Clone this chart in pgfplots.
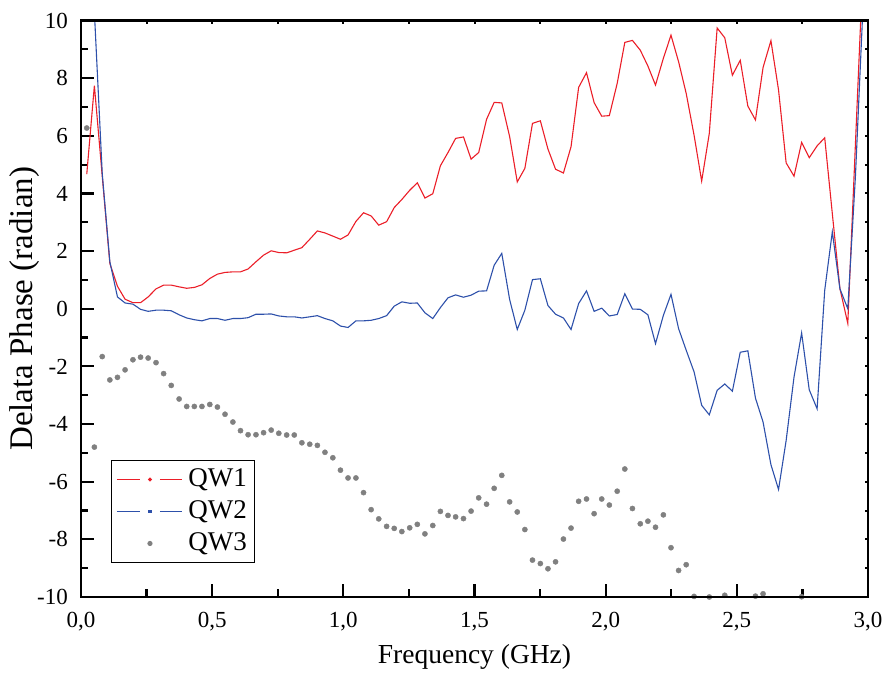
\documentclass[border=0pt]{standalone}
\usepackage{pgfplots}
\pgfplotsset{compat=1.18}
\usepackage{pgfplotstable}
\usepackage{fontspec}
\setmainfont{Liberation Serif}
\definecolor{qwred}{RGB}{235,30,40}
\definecolor{qwblue}{RGB}{45,80,170}
\definecolor{qwgrey}{RGB}{128,128,128}

\pgfplotstableread{
x y
0.022 4.67
0.051 7.74
0.081 4.60
0.110 1.57
0.139 0.78
0.168 0.33
0.198 0.21
0.227 0.21
0.256 0.41
0.286 0.69
0.315 0.82
0.344 0.82
0.374 0.76
0.403 0.71
0.432 0.74
0.461 0.83
0.491 1.05
0.520 1.20
0.549 1.26
0.579 1.28
0.608 1.28
0.637 1.38
0.667 1.63
0.696 1.86
0.725 2.01
0.754 1.95
0.784 1.94
0.813 2.03
0.842 2.12
0.872 2.41
0.901 2.70
0.930 2.63
0.960 2.52
0.989 2.41
1.018 2.56
1.048 3.03
1.077 3.33
1.106 3.22
1.135 2.90
1.165 3.02
1.194 3.51
1.223 3.79
1.253 4.11
1.282 4.37
1.311 3.84
1.341 3.99
1.370 4.96
1.399 5.42
1.428 5.91
1.458 5.96
1.487 5.19
1.516 5.42
1.546 6.57
1.575 7.16
1.604 7.14
1.634 5.97
1.663 4.40
1.692 4.87
1.721 6.43
1.751 6.52
1.780 5.54
1.809 4.84
1.839 4.71
1.868 5.62
1.897 7.68
1.927 8.19
1.956 7.15
1.985 6.68
2.014 6.70
2.044 7.82
2.073 9.24
2.102 9.31
2.132 8.97
2.161 8.42
2.190 7.76
2.220 8.69
2.249 9.49
2.278 8.57
2.307 7.47
2.337 6.02
2.366 4.43
2.395 6.08
2.425 9.74
2.454 9.40
2.483 8.10
2.513 8.62
2.542 7.03
2.571 6.55
2.600 8.37
2.630 9.30
2.659 7.59
2.688 5.06
2.718 4.60
2.747 5.77
2.776 5.24
2.806 5.65
2.835 5.93
2.864 3.30
2.893 0.70
2.923 -0.51
2.952 5.70
2.981 11.9
}\qwone

\pgfplotstableread{
x y
0.022 12.0
0.051 10.3
0.081 4.69
0.110 1.63
0.139 0.41
0.168 0.20
0.198 0.16
0.227 -0.02
0.256 -0.09
0.286 -0.05
0.315 -0.05
0.344 -0.07
0.374 -0.21
0.403 -0.32
0.432 -0.38
0.461 -0.42
0.491 -0.34
0.520 -0.34
0.549 -0.40
0.579 -0.34
0.608 -0.34
0.637 -0.31
0.667 -0.19
0.696 -0.19
0.725 -0.18
0.754 -0.25
0.784 -0.28
0.813 -0.28
0.842 -0.32
0.872 -0.28
0.901 -0.24
0.930 -0.34
0.960 -0.42
0.989 -0.60
1.018 -0.65
1.048 -0.42
1.077 -0.42
1.106 -0.40
1.135 -0.34
1.165 -0.24
1.194 0.09
1.223 0.24
1.253 0.19
1.282 0.20
1.311 -0.14
1.341 -0.34
1.370 0.04
1.399 0.38
1.428 0.48
1.458 0.40
1.487 0.47
1.516 0.61
1.546 0.62
1.575 1.51
1.604 1.92
1.634 0.32
1.663 -0.72
1.692 -0.05
1.721 1.01
1.751 1.04
1.780 0.11
1.809 -0.19
1.839 -0.32
1.868 -0.72
1.897 0.18
1.927 0.62
1.956 -0.09
1.985 0.02
2.014 -0.25
2.044 -0.20
2.073 0.52
2.102 -0.01
2.132 -0.02
2.161 -0.21
2.190 -1.21
2.220 -0.23
2.249 0.50
2.278 -0.69
2.307 -1.44
2.337 -2.19
2.366 -3.35
2.395 -3.68
2.425 -2.83
2.454 -2.61
2.483 -2.86
2.513 -1.51
2.542 -1.46
2.571 -3.10
2.600 -3.93
2.630 -5.41
2.659 -6.27
2.688 -4.57
2.718 -2.37
2.747 -0.84
2.776 -2.81
2.806 -3.47
2.835 0.64
2.864 2.67
2.893 0.69
2.923 0.00
2.952 4.58
2.981 10.5
}\qwtwo

\pgfplotstableread{
x y
0.022 6.27
0.051 -4.80
0.081 -1.66
0.110 -2.47
0.139 -2.38
0.168 -2.12
0.198 -1.77
0.227 -1.68
0.256 -1.71
0.286 -1.87
0.315 -2.25
0.344 -2.66
0.374 -3.13
0.403 -3.39
0.432 -3.39
0.461 -3.39
0.491 -3.32
0.520 -3.41
0.549 -3.66
0.579 -3.93
0.608 -4.23
0.637 -4.37
0.667 -4.37
0.696 -4.30
0.725 -4.21
0.754 -4.32
0.784 -4.38
0.813 -4.38
0.842 -4.65
0.872 -4.70
0.901 -4.74
0.930 -4.98
0.960 -5.17
0.989 -5.60
1.018 -5.87
1.048 -5.87
1.077 -6.38
1.106 -6.97
1.135 -7.29
1.165 -7.55
1.194 -7.62
1.223 -7.73
1.253 -7.60
1.282 -7.48
1.311 -7.81
1.341 -7.52
1.370 -7.03
1.399 -7.17
1.428 -7.22
1.458 -7.28
1.487 -7.02
1.516 -6.56
1.546 -6.78
1.575 -6.23
1.604 -5.78
1.634 -6.70
1.663 -7.05
1.692 -7.66
1.721 -8.72
1.751 -8.84
1.780 -9.02
1.809 -8.78
1.839 -7.99
1.868 -7.61
1.897 -6.68
1.927 -6.60
1.956 -7.11
1.985 -6.60
2.014 -6.81
2.044 -6.33
2.073 -5.56
2.102 -6.93
2.132 -7.46
2.161 -7.37
2.190 -7.58
2.220 -7.15
2.249 -8.29
2.278 -9.08
2.307 -8.88
2.337 -9.98
2.395 -10.00
2.454 -9.94
2.571 -9.97
2.600 -9.89
2.747 -9.99
}\qwthree

\begin{document}
\begin{tikzpicture}
\path[use as bounding box] (-81pt,-85pt) rectangle (806pt,597pt);
\begin{axis}[
  at={(0pt,0pt)}, anchor=south west,
  scale only axis, width=787pt, height=576.5pt,
  xmin=0, xmax=3, ymin=-10, ymax=10,
  /pgf/number format/assume math mode=true,
  xtick={0,0.5,1,1.5,2,2.5,3},
  xticklabels={{0,0},{0,5},{1,0},{1,5},{2,0},{2,5},{3,0}},
  ytick={-10,-8,-6,-4,-2,0,2,4,6,8,10},
  yticklabels={-10,-8,-6,-4,-2,0,2,4,6,8,10},
  minor x tick num=1, minor y tick num=1,
  tick align=inside, tick pos=left,
  major tick length=13pt, minor tick length=7.5pt,
  tick style={black, line width=2.2pt},
  axis line style={black, line width=2.3pt},
  ticklabel style={font=\fontsize{23}{23}\selectfont, inner sep=0pt},
  xticklabel style={yshift=-14.7pt},
  yticklabel style={xshift=-13pt},
  xlabel={Frequency (GHz)},
  ylabel={Delata Phase (radian)},
  xlabel style={font=\fontsize{27.5}{27.5}\selectfont, at={(axis description cs:0.5,-0.1145)}, anchor=base},
  ylabel style={font=\fontsize{33}{33}\selectfont, at={(axis description cs:-0.061,0.5)}, anchor=base},
  legend cell align=left,
  legend style={at={(0.0381,0.059)}, anchor=south west, draw=black, line width=1pt, fill=white,
    inner xsep=5pt, inner ysep=4pt, row sep=2pt,
    font=\fontsize{27}{27}\selectfont,
    nodes={inner sep=3pt, text height=19pt, text depth=5pt},
    /tikz/every odd column/.append style={column sep=3pt}},
]
\addplot[qwred, line width=1.1pt,
  legend image code/.code={
    \draw[qwred, line width=1pt] (0pt,0pt) -- (23pt,0pt);
    \fill[qwred] (33pt,0pt) circle (1.4pt);
    \draw[qwred, line width=1pt] (43pt,0pt) -- (65pt,0pt);}]
  table[x=x,y=y] {\qwone};
\addlegendentry{QW1}
\addplot[qwblue, line width=1.1pt,
  legend image code/.code={
    \draw[qwblue, line width=1pt] (0pt,0pt) -- (23pt,0pt);
    \fill[qwblue] (31.6pt,-1.4pt) rectangle (34.4pt,1.4pt);
    \draw[qwblue, line width=1pt] (43pt,0pt) -- (65pt,0pt);}]
  table[x=x,y=y] {\qwtwo};
\addlegendentry{QW2}
\addplot[forget plot, only marks, mark=*, mark size=2.6pt, mark options={fill=qwgrey, draw=qwgrey}]
  table[x=x,y=y] {\qwthree};
\addlegendimage{legend image code/.code={
    \fill[qwgrey, draw=none] (33pt,0pt) circle (2.6pt);
    \path[draw=none, fill=none] (0pt,-1pt) rectangle (65pt,1pt);}}
\addlegendentry{QW3}
\end{axis}
\begin{axis}[
  at={(0pt,0pt)}, anchor=south west,
  scale only axis, width=787pt, height=576.5pt,
  xmin=0, xmax=3, ymin=-10, ymax=10,
  xtick={0,0.25,...,3}, ytick={-10,-9,...,10},
  xticklabels={}, yticklabels={},
  tick align=inside, tick pos=right,
  major tick length=3.5pt,
  tick style={black, line width=2pt},
  axis line style={black, line width=2.3pt},
]
\end{axis}
\end{tikzpicture}
\end{document}
